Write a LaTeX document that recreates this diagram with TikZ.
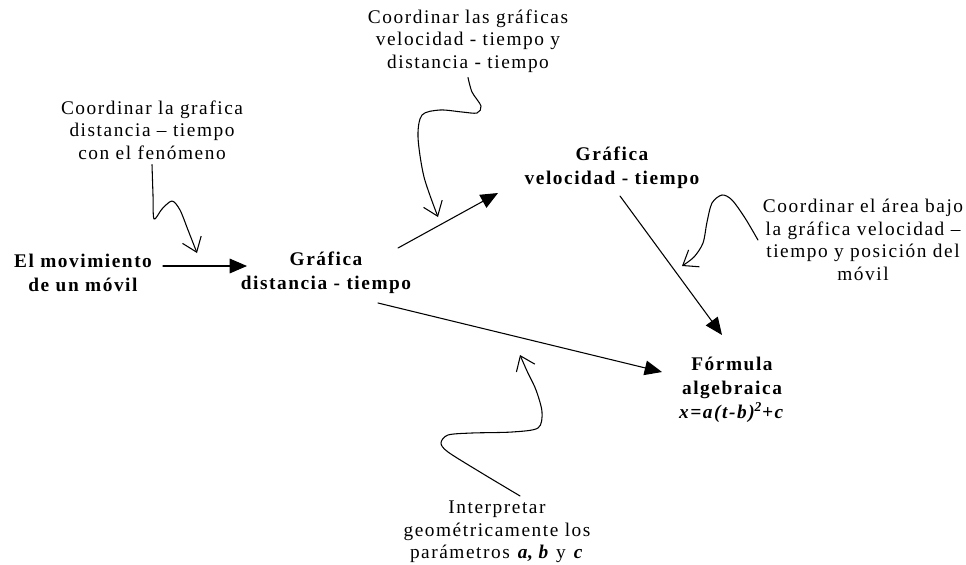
\documentclass[tikz,border=0pt]{standalone}
\usepackage{fontspec}
\setmainfont{Liberation Serif}[LetterSpace=8]
\usetikzlibrary{arrows.meta}
\usetikzlibrary{calc}

\begin{document}
\begin{tikzpicture}[line cap=round,line join=round,x=0.75pt,y=-0.75pt,line width=0.8pt,
  >={Triangle[length=13pt,width=11pt]},
  etiq/.style={align=center,font=\fontsize{14.5}{17}\selectfont},
  concepto/.style={align=center,font=\fontsize{14.5}{18}\selectfont\bfseries},
  rizo/.style={-{Straight Barb[length=10pt,width=15pt]}}]
\useasboundingbox (0,0) rectangle (966,564);
% conceptos
\node[concepto] (mov) at (83,273) {El movimiento\\de un móvil};
\node[concepto] (dist) at (326,273) {Gráfica\\distancia - tiempo};
\node[concepto] (vel) at (612,168) {Gráfica\\velocidad - tiempo};
\node[concepto] (form) at (732,390) {Fórmula\\algebraica\\\textit{x=a(t-b)\textsuperscript{2}+c}};
% etiquetas
\node[etiq] (cgraf) at (468,41) {Coordinar las gráficas\\velocidad - tiempo y\\distancia - tiempo};
\node[etiq] (cfen) at (152,130) {Coordinar la grafica\\distancia – tiempo\\con el fenómeno};
\node[etiq] (area) at (863,240) {Coordinar el área bajo\\la gráfica velocidad –\\tiempo y posición del\\móvil};
\node[etiq] (interp) at (497,532) {Interpretar\\geométricamente los\\parámetros \textbf{\textit{a}, \textit{b}} y \textbf{\textit{c}}};
%
\draw[->] ($(mov)+(80,-7)$) -- ($(dist)+(-79,-7)$);
\draw[->] ($(dist)+(72,-25)$) -- ($(vel)+(-114,25)$);
\draw[->] ($(vel)+(8,28)$) -- ($(form)+(-10,-55)$);
\draw[->] ($(dist)+(52,30)$) -- ($(form)+(-70,-18)$);
% flechas curvas
\coordinate (r1) at (197,253);
\coordinate (r2) at (438,217);
\coordinate (r3) at (682,266);
\coordinate (r4) at (520,355);
\coordinate (s4) at ($(interp.north)+(23,0)$);
\draw[rizo] plot[smooth,tension=0.5] coordinates {(cfen.south) (153,195) (154,219) (162,209) (172,201) (180,210) (188,230) (r1)};
\draw[rizo] plot[smooth,tension=0.5] coordinates {(cgraf.south) (472,92) (481,106) (477,113) (462,112) (440,110) (422,115) (418,137) (424,177) (r2)};
\draw[rizo] plot[smooth,tension=0.5] coordinates {(area.west) (745,218) (732,200) (722,195) (712,203) (707,222) (703,243) (694,257) (r3)};
\draw[rizo] plot[smooth,tension=0.5] coordinates {(s4) (480,472) (448,452) (441,443) (448,435) (472,433) (512,432) (538,428) (542,412) (536,390) (527,371) (r4)};
\end{tikzpicture}
\end{document}
